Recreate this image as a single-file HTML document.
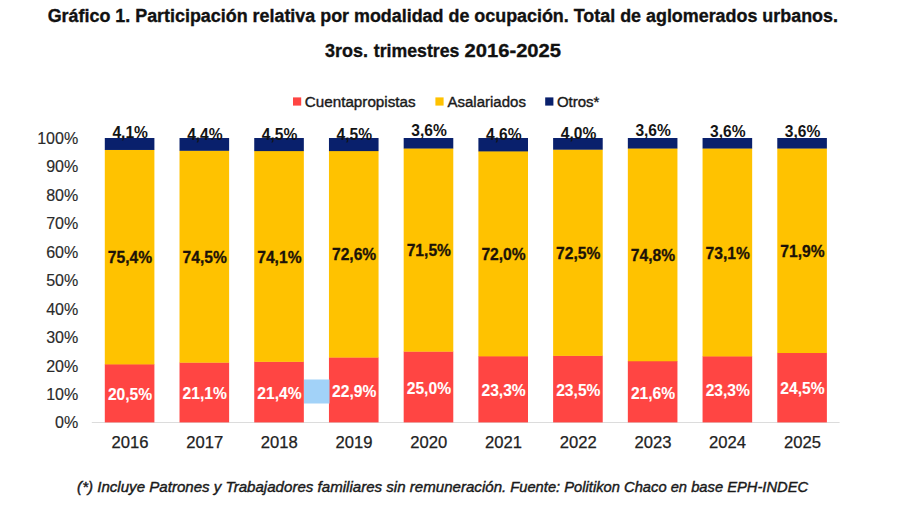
<!DOCTYPE html>
<html><head><meta charset="utf-8"><title>Gráfico 1</title>
<style>
html,body{margin:0;padding:0;background:#fff;}
body{width:900px;height:505px;overflow:hidden;}
svg{display:block;}
text{font-family:"Liberation Sans",Arial,sans-serif;}
.t{font-weight:bold;fill:#111;stroke:#111;stroke-width:0.35px;}
.lg{fill:#1a1a1a;stroke:#1a1a1a;stroke-width:0.4px;}
.yl{fill:#2a2a2a;stroke:#2a2a2a;stroke-width:0.15px;}
.xl{fill:#222;stroke:#222;stroke-width:0.25px;}
.dl{font-weight:bold;fill:#1c1208;stroke:#1c1208;stroke-width:0.3px;}
.dl.w{fill:#fff;stroke:#fff;stroke-width:0.1px;}
.tl{font-weight:bold;fill:#141414;}
.fn{font-style:italic;fill:#1a1a1a;stroke:#1a1a1a;stroke-width:0.4px;}
</style></head>
<body>
<svg width="900" height="505" viewBox="0 0 900 505">
<rect width="900" height="505" fill="#fff"/>
<text class="t" x="47.68" y="21.7" font-size="18.45" textLength="790.25" lengthAdjust="spacingAndGlyphs">Gráfico 1. Participación relativa por modalidad de ocupación. Total de aglomerados urbanos.</text>
<text class="t" x="325.05" y="57.1" font-size="18.87" textLength="42.91" lengthAdjust="spacingAndGlyphs">3ros.</text>
<text class="t" x="373.82" y="57.1" font-size="18.87" textLength="85.6" lengthAdjust="spacingAndGlyphs">trimestres</text>
<text class="t" x="464.59" y="57.1" font-size="18.87" textLength="96.46" lengthAdjust="spacingAndGlyphs">2016-2025</text>
<rect x="293" y="97.4" width="8.2" height="8.2" fill="#FF4543"/>
<text class="lg" x="304.84" y="106.7" font-size="15.49" textLength="110.73" lengthAdjust="spacingAndGlyphs">Cuentapropistas</text>
<rect x="435.4" y="97.4" width="8.2" height="8.2" fill="#FFC200"/>
<text class="lg" x="447.52" y="106.7" font-size="15.49" textLength="78.4" lengthAdjust="spacingAndGlyphs">Asalariados</text>
<rect x="545.2" y="97.4" width="8.2" height="8.2" fill="#09206C"/>
<text class="lg" x="556.92" y="106.7" font-size="15.49" textLength="42.56" lengthAdjust="spacingAndGlyphs">Otros*</text>
<line x1="91.8" y1="422.5" x2="839.6" y2="422.5" stroke="#DCDCDC" stroke-width="1"/>
<text class="yl" x="55.06" y="428.4" font-size="16.06">0%</text>
<text class="yl" x="46.15" y="399.96" font-size="16.06">10%</text>
<text class="yl" x="46.15" y="371.52" font-size="16.06">20%</text>
<text class="yl" x="46.15" y="343.08" font-size="16.06">30%</text>
<text class="yl" x="46.15" y="314.64" font-size="16.06">40%</text>
<text class="yl" x="46.15" y="286.2" font-size="16.06">50%</text>
<text class="yl" x="46.15" y="257.76" font-size="16.06">60%</text>
<text class="yl" x="46.15" y="229.32" font-size="16.06">70%</text>
<text class="yl" x="46.15" y="200.88" font-size="16.06">80%</text>
<text class="yl" x="46.15" y="172.44" font-size="16.06">90%</text>
<text class="yl" x="37.16" y="144" font-size="16.06">100%</text>
<rect x="104.8" y="364.1" width="49.6" height="58.3" fill="#FF4543"/>
<rect x="104.8" y="149.66" width="49.6" height="214.74" fill="#FFC200"/>
<rect x="104.8" y="138" width="49.6" height="11.96" fill="#09206C"/>
<text class="dl w" x="107.88" y="400.15" font-size="16.23" textLength="44.3" lengthAdjust="spacingAndGlyphs">20,5%</text>
<text class="dl" x="107.8" y="263.28" font-size="16.23" textLength="44.3" lengthAdjust="spacingAndGlyphs">75,4%</text>
<text class="tl" x="112.42" y="137.7" font-size="15.94" textLength="35.51" lengthAdjust="spacingAndGlyphs">4,1%</text>
<text class="xl" x="111.47" y="448.1" font-size="15.92" textLength="36.97" lengthAdjust="spacingAndGlyphs">2016</text>
<rect x="179.52" y="362.39" width="49.6" height="60.01" fill="#FF4543"/>
<rect x="179.52" y="150.51" width="49.6" height="212.18" fill="#FFC200"/>
<rect x="179.52" y="138" width="49.6" height="12.81" fill="#09206C"/>
<text class="dl w" x="182.6" y="399.3" font-size="16.23" textLength="44.3" lengthAdjust="spacingAndGlyphs">21,1%</text>
<text class="dl" x="182.52" y="262.85" font-size="16.23" textLength="44.3" lengthAdjust="spacingAndGlyphs">74,5%</text>
<text class="tl" x="187.14" y="139.5" font-size="15.94" textLength="35.51" lengthAdjust="spacingAndGlyphs">4,4%</text>
<text class="xl" x="186.23" y="448.1" font-size="15.92" textLength="36.97" lengthAdjust="spacingAndGlyphs">2017</text>
<rect x="254.24" y="361.54" width="49.6" height="60.86" fill="#FF4543"/>
<rect x="254.24" y="150.8" width="49.6" height="211.04" fill="#FFC200"/>
<rect x="254.24" y="138" width="49.6" height="13.1" fill="#09206C"/>
<text class="dl w" x="257.32" y="398.87" font-size="16.23" textLength="44.3" lengthAdjust="spacingAndGlyphs">21,4%</text>
<text class="dl" x="257.24" y="262.57" font-size="16.23" textLength="44.3" lengthAdjust="spacingAndGlyphs">74,1%</text>
<text class="tl" x="261.86" y="139.5" font-size="15.94" textLength="35.51" lengthAdjust="spacingAndGlyphs">4,5%</text>
<text class="xl" x="260.87" y="448.1" font-size="15.92" textLength="36.97" lengthAdjust="spacingAndGlyphs">2018</text>
<rect x="328.96" y="357.27" width="49.6" height="65.13" fill="#FF4543"/>
<rect x="328.96" y="150.8" width="49.6" height="206.77" fill="#FFC200"/>
<rect x="328.96" y="138" width="49.6" height="13.1" fill="#09206C"/>
<text class="dl w" x="332.04" y="396.74" font-size="16.23" textLength="44.3" lengthAdjust="spacingAndGlyphs">22,9%</text>
<text class="dl" x="331.96" y="260.44" font-size="16.23" textLength="44.3" lengthAdjust="spacingAndGlyphs">72,6%</text>
<text class="tl" x="336.58" y="139.6" font-size="15.94" textLength="35.51" lengthAdjust="spacingAndGlyphs">4,5%</text>
<text class="xl" x="335.63" y="448.1" font-size="15.92" textLength="36.97" lengthAdjust="spacingAndGlyphs">2019</text>
<rect x="403.68" y="351.37" width="49.6" height="71.03" fill="#FF4543"/>
<rect x="403.68" y="148.23" width="49.6" height="203.44" fill="#FFC200"/>
<rect x="403.68" y="138" width="49.6" height="10.53" fill="#09206C"/>
<text class="dl w" x="406.76" y="393.79" font-size="16.23" textLength="44.3" lengthAdjust="spacingAndGlyphs">25,0%</text>
<text class="dl" x="406.68" y="256.2" font-size="16.23" textLength="44.3" lengthAdjust="spacingAndGlyphs">71,5%</text>
<text class="tl" x="411.22" y="136.2" font-size="15.94" textLength="35.51" lengthAdjust="spacingAndGlyphs">3,6%</text>
<text class="xl" x="410.31" y="448.1" font-size="15.92" textLength="36.97" lengthAdjust="spacingAndGlyphs">2020</text>
<rect x="478.4" y="356.07" width="49.6" height="66.33" fill="#FF4543"/>
<rect x="478.4" y="151.1" width="49.6" height="205.27" fill="#FFC200"/>
<rect x="478.4" y="138" width="49.6" height="13.4" fill="#09206C"/>
<text class="dl w" x="481.48" y="396.13" font-size="16.23" textLength="44.3" lengthAdjust="spacingAndGlyphs">23,3%</text>
<text class="dl" x="481.4" y="259.98" font-size="16.23" textLength="44.3" lengthAdjust="spacingAndGlyphs">72,0%</text>
<text class="tl" x="486.02" y="139.5" font-size="15.94" textLength="35.51" lengthAdjust="spacingAndGlyphs">4,6%</text>
<text class="xl" x="485.07" y="448.1" font-size="15.92" textLength="36.97" lengthAdjust="spacingAndGlyphs">2021</text>
<rect x="553.12" y="355.57" width="49.6" height="66.83" fill="#FF4543"/>
<rect x="553.12" y="149.38" width="49.6" height="206.49" fill="#FFC200"/>
<rect x="553.12" y="138" width="49.6" height="11.68" fill="#09206C"/>
<text class="dl w" x="556.2" y="395.88" font-size="16.23" textLength="44.3" lengthAdjust="spacingAndGlyphs">23,5%</text>
<text class="dl" x="556.12" y="258.87" font-size="16.23" textLength="44.3" lengthAdjust="spacingAndGlyphs">72,5%</text>
<text class="tl" x="560.74" y="138.5" font-size="15.94" textLength="35.51" lengthAdjust="spacingAndGlyphs">4,0%</text>
<text class="xl" x="559.83" y="448.1" font-size="15.92" textLength="36.97" lengthAdjust="spacingAndGlyphs">2022</text>
<rect x="627.84" y="360.97" width="49.6" height="61.43" fill="#FF4543"/>
<rect x="627.84" y="148.24" width="49.6" height="213.03" fill="#FFC200"/>
<rect x="627.84" y="138" width="49.6" height="10.54" fill="#09206C"/>
<text class="dl w" x="630.92" y="398.58" font-size="16.23" textLength="44.3" lengthAdjust="spacingAndGlyphs">21,6%</text>
<text class="dl" x="630.84" y="261" font-size="16.23" textLength="44.3" lengthAdjust="spacingAndGlyphs">74,8%</text>
<text class="tl" x="635.38" y="136.2" font-size="15.94" textLength="35.51" lengthAdjust="spacingAndGlyphs">3,6%</text>
<text class="xl" x="634.51" y="448.1" font-size="15.92" textLength="36.97" lengthAdjust="spacingAndGlyphs">2023</text>
<rect x="702.56" y="356.13" width="49.6" height="66.27" fill="#FF4543"/>
<rect x="702.56" y="148.24" width="49.6" height="208.2" fill="#FFC200"/>
<rect x="702.56" y="138" width="49.6" height="10.54" fill="#09206C"/>
<text class="dl w" x="705.64" y="396.17" font-size="16.23" textLength="44.3" lengthAdjust="spacingAndGlyphs">23,3%</text>
<text class="dl" x="705.56" y="258.59" font-size="16.23" textLength="44.3" lengthAdjust="spacingAndGlyphs">73,1%</text>
<text class="tl" x="710.1" y="136.6" font-size="15.94" textLength="35.51" lengthAdjust="spacingAndGlyphs">3,6%</text>
<text class="xl" x="709.1" y="448.1" font-size="15.92" textLength="36.97" lengthAdjust="spacingAndGlyphs">2024</text>
<rect x="777.28" y="352.72" width="49.6" height="69.68" fill="#FF4543"/>
<rect x="777.28" y="148.24" width="49.6" height="204.78" fill="#FFC200"/>
<rect x="777.28" y="138" width="49.6" height="10.54" fill="#09206C"/>
<text class="dl w" x="780.36" y="394.46" font-size="16.23" textLength="44.3" lengthAdjust="spacingAndGlyphs">24,5%</text>
<text class="dl" x="780.28" y="256.88" font-size="16.23" textLength="44.3" lengthAdjust="spacingAndGlyphs">71,9%</text>
<text class="tl" x="784.82" y="136.6" font-size="15.94" textLength="35.51" lengthAdjust="spacingAndGlyphs">3,6%</text>
<text class="xl" x="783.91" y="448.1" font-size="15.92" textLength="36.97" lengthAdjust="spacingAndGlyphs">2025</text>
<rect x="304" y="379.5" width="25.5" height="24" fill="#A2D2F8"/>
<text class="fn" x="77.12" y="492.4" font-size="14.35" textLength="429.15" lengthAdjust="spacingAndGlyphs">(*) Incluye Patrones y Trabajadores familiares sin remuneración.</text>
<text class="fn" x="510.26" y="492.4" font-size="14.35" textLength="297.9" lengthAdjust="spacingAndGlyphs">Fuente: Politikon Chaco en base EPH-INDEC</text>
</svg>
</body></html>
